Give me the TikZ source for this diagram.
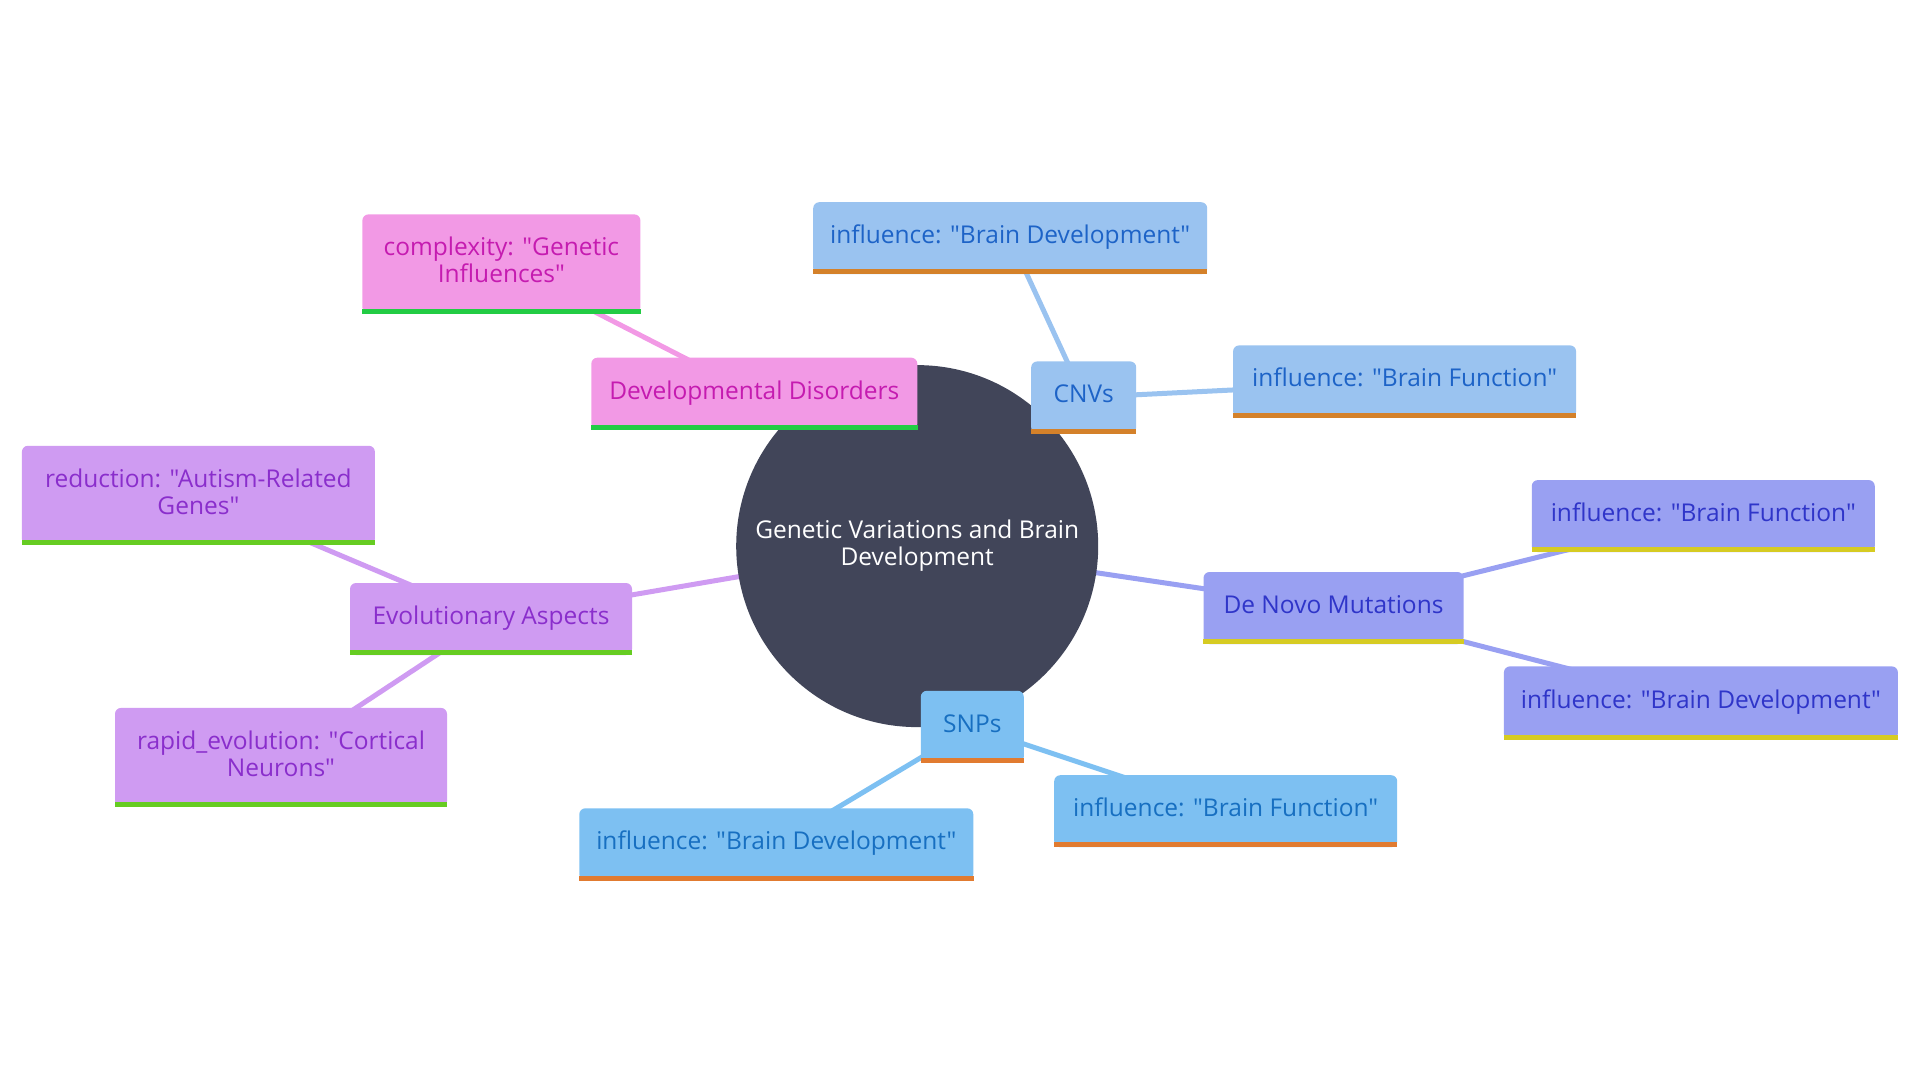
\documentclass[tikz,border=0pt]{standalone}
\usepackage{fontspec}
\setmainfont{Open Sans}[Ligatures=TeXOff]
\usetikzlibrary{backgrounds}
\definecolor{centerC}{HTML}{414559}
\definecolor{pinkF}{HTML}{F299E5}
\definecolor{pinkT}{HTML}{C51BB0}
\definecolor{pinkB}{HTML}{22CC44}
\definecolor{cnvF}{HTML}{9AC3F0}
\definecolor{cnvT}{HTML}{1D63C7}
\definecolor{cnvB}{HTML}{D4812A}
\definecolor{dnmF}{HTML}{99A0F2}
\definecolor{dnmT}{HTML}{2F35C9}
\definecolor{dnmB}{HTML}{D6CB22}
\definecolor{snpF}{HTML}{7DC0F2}
\definecolor{snpT}{HTML}{176FC1}
\definecolor{snpB}{HTML}{E17B30}
\definecolor{evoF}{HTML}{CF9BF2}
\definecolor{evoT}{HTML}{8A2ECC}
\definecolor{evoB}{HTML}{66CC22}
\tikzset{
  mm/.style={rectangle, rounded corners=6pt, inner sep=0pt, align=center,
    font=\fontsize{24.5}{27}\selectfont,
    execute at begin node=\strut, execute at end node=\strut},
  pinkbox/.style={mm, fill=pinkF, text=pinkT},
  cnvbox/.style={mm, fill=cnvF, text=cnvT},
  dnmbox/.style={mm, fill=dnmF, text=dnmT},
  snpbox/.style={mm, fill=snpF, text=snpT},
  evobox/.style={mm, fill=evoF, text=evoT},
  sz/.style 2 args={minimum width=#1pt, minimum height=#2pt},
  link/.style={line width=5pt},
}
\begin{document}
\begin{tikzpicture}[x=1pt, y=-1pt]
\useasboundingbox (0,0) rectangle (1920,1080);
% center
\node[circle, fill=centerC, minimum size=362pt, inner sep=0pt, text=white, align=center,
  font=\fontsize{24.5}{27}\selectfont] (c) at (917.2,546.1) {Genetic Variations and Brain\\Development};
% first level
\node[pinkbox, sz={326}{72}] (dd) at (754.3,393.7) {Developmental Disorders};
\node[cnvbox, sz={105}{72}] (cnv) at (1083.7,397.4) {CNVs};
\node[dnmbox, sz={260}{72}] (dnm) at (1333.5,608) {De Novo Mutations};
\node[snpbox, sz={103}{72}] (snp) at (972.3,726.8) {SNPs};
\node[evobox, sz={282}{72}] (evo) at (491,619) {Evolutionary Aspects};
% leaves
\node[pinkbox, sz={278}{99}] (ddc) at (501.4,263.9) {complexity: "Genetic\\Influences"};
\node[cnvbox, sz={394}{72}] (cnvd) at (1010.2,238.2) {influence: "Brain Development"};
\node[cnvbox, sz={343}{72}] (cnvf) at (1404.6,381.4) {influence: "Brain Function"};
\node[dnmbox, sz={343}{72}] (dnmf) at (1703.3,516.1) {influence: "Brain Function"};
\node[dnmbox, sz={394}{73}] (dnmd) at (1700.9,702.9) {influence: "Brain Development"};
\node[snpbox, sz={343}{72}] (snpf) at (1225.7,811.2) {influence: "Brain Function"};
\node[snpbox, sz={394}{72}] (snpd) at (776.3,844.3) {influence: "Brain Development"};
\node[evobox, sz={353}{99}] (evor) at (198.4,495.3) {reduction: "Autism-Related\\Genes"};
\node[evobox, sz={332}{99}] (evoe) at (281,757.4) {rapid\_evolution: "Cortical\\Neurons"};
% bottom bars
\foreach \n/\b in {dd/pinkB, ddc/pinkB, cnv/cnvB, cnvd/cnvB, cnvf/cnvB,
  dnm/dnmB, dnmf/dnmB, dnmd/dnmB, snp/snpB, snpf/snpB, snpd/snpB,
  evo/evoB, evor/evoB, evoe/evoB}
  \fill[\b] ([yshift=5pt]\n.south west) rectangle (\n.south east);
% connectors
\begin{scope}[on background layer]
\draw[link, pinkF] (c.center) -- (dd.center);
\draw[link, pinkF] (dd.center) -- (ddc.center);
\draw[link, cnvF] (c.center) -- (cnv.center);
\draw[link, cnvF] (cnv.center) -- (cnvd.center);
\draw[link, cnvF] (cnv.center) -- (cnvf.center);
\draw[link, dnmF] (c.center) -- (dnm.center);
\draw[link, dnmF] (dnm.center) -- (dnmf.center);
\draw[link, dnmF] (dnm.center) -- (dnmd.center);
\draw[link, snpF] (c.center) -- (snp.center);
\draw[link, snpF] (snp.center) -- (snpf.center);
\draw[link, snpF] (snp.center) -- (snpd.center);
\draw[link, evoF] (c.center) -- (evo.center);
\draw[link, evoF] (evo.center) -- (evor.center);
\draw[link, evoF] (evo.center) -- (evoe.center);
\end{scope}
\end{tikzpicture}
\end{document}
